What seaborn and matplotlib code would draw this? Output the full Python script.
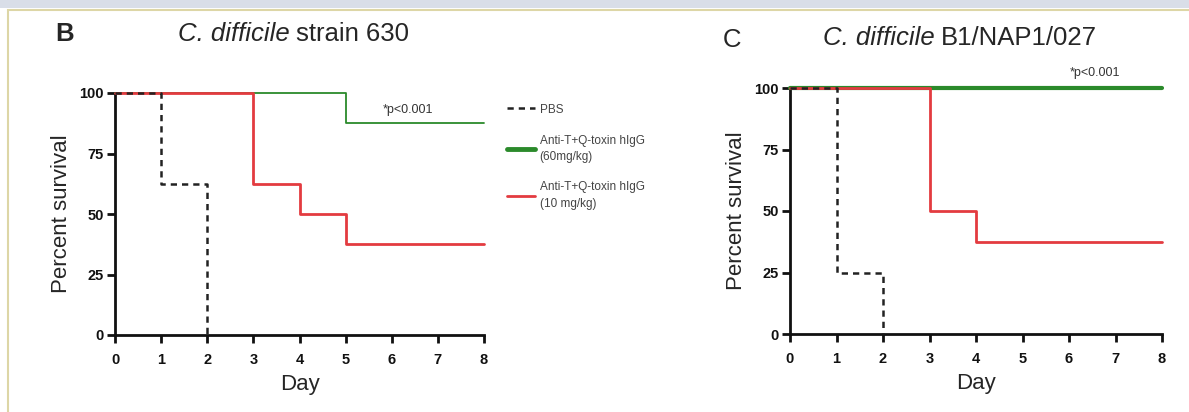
import matplotlib.pyplot as plt
import matplotlib.patches as mpatches
from matplotlib.lines import Line2D
import pandas as pd
import seaborn as sns

sns.set_style("white")
plt.rcParams['font.family'] = ['Liberation Sans', 'DejaVu Sans']

# Survival data (step points: day, percent survival)
groups = ["PBS", "Anti-T+Q-toxin hIgG\n(60mg/kg)", "Anti-T+Q-toxin hIgG\n(10 mg/kg)"]

b_pbs_day = [0, 1, 2]
b_pbs_surv = [100, 62.5, 0]
b_high_day = [0, 5, 8]
b_high_surv = [100, 87.5, 87.5]
b_low_day = [0, 3, 4, 5, 8]
b_low_surv = [100, 62.5, 50, 37.5, 37.5]

c_pbs_day = [0, 1, 2]
c_pbs_surv = [100, 25, 0]
c_high_day = [0, 8]
c_high_surv = [100, 100]
c_low_day = [0, 3, 4, 8]
c_low_surv = [100, 50, 37.5, 37.5]

day_ticks = [0, 1, 2, 3, 4, 5, 6, 7, 8]
surv_ticks = [0, 25, 50, 75, 100]

green = "#2b8a2b"
red = "#e33b40"

fig = plt.figure(figsize=(11.89, 4.12), dpi=100)
fig.patch.set_facecolor("white")

# picture frame
fig.patches.append(mpatches.Rectangle((0, 1 - 8 / 412), 1, 8 / 412, transform=fig.transFigure,
                                      facecolor="#d9dee8", edgecolor="none", zorder=0))
fig.patches.append(mpatches.Rectangle((8 / 1189, -0.05), 1.1, 1 - 10 / 412 + 0.05, transform=fig.transFigure,
                                      facecolor="none", edgecolor="#ddd6a6", lw=1.5, zorder=0))

ax_b = fig.add_axes([115 / 1189, 1 - 335 / 412, 369 / 1189, 242 / 412])
ax_c = fig.add_axes([790 / 1189, 1 - 334 / 412, 372 / 1189, 246 / 412])


def draw_panel(ax, pbs, high, low, high_lw):
    df_pbs = pd.DataFrame({"day": pbs[0], "surv": pbs[1]})
    df_high = pd.DataFrame({"day": high[0], "surv": high[1]})
    df_low = pd.DataFrame({"day": low[0], "surv": low[1]})
    sns.lineplot(data=df_high, x="day", y="surv", ax=ax, color=green, lw=high_lw,
                 drawstyle="steps-post", estimator=None, clip_on=False, zorder=3)
    sns.lineplot(data=df_low, x="day", y="surv", ax=ax, color=red, lw=2,
                 drawstyle="steps-post", estimator=None, clip_on=False, zorder=4)
    sns.lineplot(data=df_pbs, x="day", y="surv", ax=ax, color="#222222", lw=1.8,
                 linestyle=(0, (2.5, 2)), drawstyle="steps-post", estimator=None,
                 clip_on=False, zorder=5)
    ax.set_xlim(0, 8)
    ax.set_ylim(0, 100)
    ax.set_xticks(day_ticks)
    ax.set_yticks(surv_ticks)
    ax.tick_params(axis="both", direction="out", length=6, width=2, labelsize=10.5,
                   bottom=True, left=True, colors="#111111")
    ax.tick_params(axis="x", pad=7)
    ax.tick_params(axis="y", pad=2)
    for lab in ax.get_xticklabels() + ax.get_yticklabels():
        lab.set_fontweight("bold")
    for side in ["top", "right"]:
        ax.spines[side].set_visible(False)
    for side in ["left", "bottom"]:
        ax.spines[side].set_linewidth(2)
        ax.spines[side].set_color("#111111")
    ax.set_xlabel("Day", fontsize=16, labelpad=5)
    ax.set_ylabel("Percent survival", fontsize=16, labelpad=5)


draw_panel(ax_b, (b_pbs_day, b_pbs_surv), (b_high_day, b_high_surv), (b_low_day, b_low_surv), 1.3)
draw_panel(ax_c, (c_pbs_day, c_pbs_surv), (c_high_day, c_high_surv), (c_low_day, c_low_surv), 3)

ax_b.text(6.35, 93, "*p<0.001", fontsize=9, ha="center", va="center", color="#333333")
ax_c.text(6.55, 106, "*p<0.001", fontsize=9, ha="center", va="center", color="#333333",
          clip_on=False)

# titles and panel letters
renderer = fig.canvas.get_renderer()


def title(x_px, y_px, italic_part, rest):
    t1 = fig.text(x_px / 1189, 1 - y_px / 412, italic_part, fontsize=18.5, fontstyle="italic",
                  ha="left", va="center")
    bb = t1.get_window_extent(renderer=renderer)
    fig.text(bb.x1 / 1189 + 6 / 1189, 1 - y_px / 412, rest, fontsize=18.5, ha="left", va="center")


fig.text(55 / 1189, 1 - 34 / 412, "B", fontsize=18.5, fontweight="bold", ha="left", va="center")
title(178, 34, "C. difficile", "strain 630")
fig.text(723 / 1189, 1 - 40 / 412, "C", fontsize=18.5, ha="left", va="center")
title(823, 38, "C. difficile", "B1/NAP1/027")

handles = [
    Line2D([], [], color="#222222", lw=1.8, linestyle=(0, (2.5, 2))),
    Line2D([], [], color=green, lw=3.5),
    Line2D([], [], color=red, lw=2),
]
leg = fig.legend(handles, groups, loc="upper left", bbox_to_anchor=(496 / 1189, 1 - 93 / 412),
                 frameon=False, fontsize=8.5, handlelength=2.4, handletextpad=0.4,
                 labelspacing=1.6, labelcolor="#444444")
for t in leg.get_texts():
    t.set_linespacing(1.45)

fig.savefig("out.png", dpi=100)
